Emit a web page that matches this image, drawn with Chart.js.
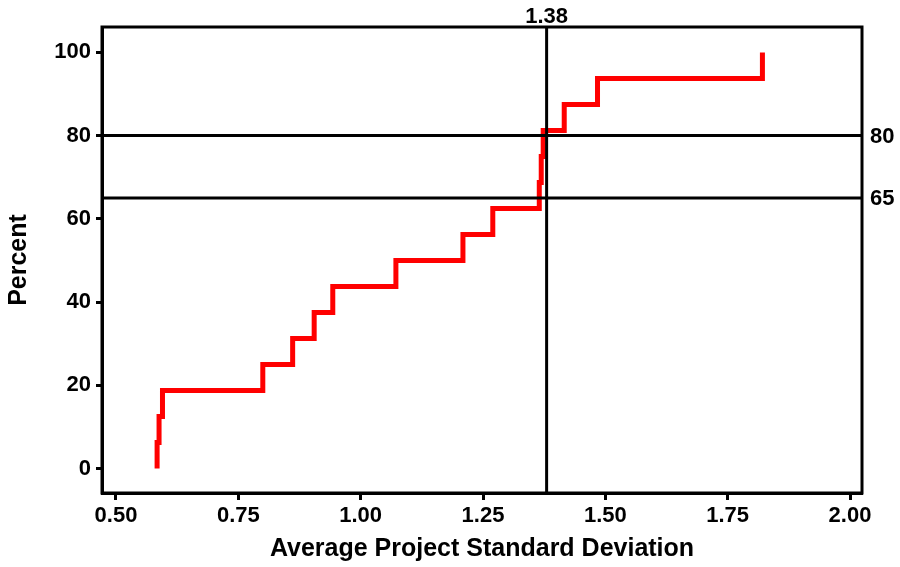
<!DOCTYPE html>
<html>
<head>
<meta charset="utf-8">
<script src="https://cdn.jsdelivr.net/npm/chart.js@4/dist/chart.umd.min.js"></script>
<style>
  html, body { margin: 0; padding: 0; background: #fff; }
  #wrap { width: 900px; height: 567px; position: relative; }
</style>
</head>
<body>
<div id="wrap"><canvas id="chart"></canvas></div>
<script>
// empirical distribution of average project standard deviation
const sdValues = [0.584, 0.588, 0.595, 0.800, 0.861, 0.905, 0.943, 1.072,
  1.209, 1.270, 1.365, 1.369, 1.373, 1.416, 1.484, 1.821];
const percentValues = [6.25, 12.5, 18.75, 25, 31.25, 37.5, 43.75, 50,
  56.25, 62.5, 68.75, 75, 81.25, 87.5, 93.75, 100];

const xTicks = [0.5, 0.75, 1.0, 1.25, 1.5, 1.75, 2.0];
const yTicks = [0, 20, 40, 60, 80, 100];

// reference lines
const refX = [1.38];
const refY = [80, 65];

const FONT = "'Liberation Sans', Arial, sans-serif";

const stepPoints = [{ x: sdValues[0], y: 0 }].concat(
  sdValues.map((x, i) => ({ x, y: percentValues[i] }))
);

// frame + reference lines + their labels
const refPlugin = {
  id: "refLines",
  afterDatasetsDraw(chart) {
    const { ctx, chartArea: a, scales } = chart;
    ctx.save();
    ctx.strokeStyle = "#000";
    ctx.lineWidth = 3;
    ctx.fillStyle = "#000";
    ctx.font = "bold 22px " + FONT;

    refY.forEach((v) => {
      const y = scales.y.getPixelForValue(v);
      ctx.beginPath();
      ctx.moveTo(a.left, y);
      ctx.lineTo(a.right, y);
      ctx.stroke();
      ctx.textAlign = "left";
      ctx.textBaseline = "middle";
      ctx.fillText(String(v), a.right + 8, y + 1);
    });

    refX.forEach((v) => {
      const x = scales.x.getPixelForValue(v);
      ctx.beginPath();
      ctx.moveTo(x, a.top);
      ctx.lineTo(x, a.bottom);
      ctx.stroke();
      ctx.textAlign = "center";
      ctx.textBaseline = "alphabetic";
      ctx.fillText(v.toFixed(2), x, a.top - 4);
    });

    ctx.strokeRect(a.left, a.top, a.right - a.left, a.bottom - a.top);
    ctx.restore();
  },
};

new Chart(document.getElementById("chart"), {
  type: "line",
  data: {
    datasets: [
      {
        label: "Percent",
        data: stepPoints,
        stepped: "before",
        borderColor: "#ff0000",
        borderWidth: 5,
        borderCapStyle: "butt",
        borderJoinStyle: "miter",
        pointRadius: 0,
        fill: false,
        clip: false,
      },
    ],
  },
  options: {
    responsive: true,
    maintainAspectRatio: false,
    animation: false,
    layout: { padding: { left: 0, top: 27, right: 38, bottom: 0 } },
    plugins: {
      legend: { display: false },
      tooltip: { enabled: false },
    },
    scales: {
      x: {
        type: "linear",
        min: 0.4714,
        max: 2.0245,
        afterBuildTicks: (scale) => {
          scale.ticks = xTicks.map((v) => ({ value: v }));
        },
        afterFit: (scale) => {
          scale.height = 74;
        },
        ticks: {
          color: "#000",
          font: { family: FONT, size: 22, weight: "bold" },
          padding: 3,
          maxRotation: 0,
          autoSkip: false,
          callback: (v) => Number(v).toFixed(2),
        },
        grid: {
          drawOnChartArea: false,
          drawTicks: true,
          tickLength: 7,
          tickWidth: 3,
          tickColor: "#000",
        },
        border: { display: true, color: "#000", width: 3 },
        title: {
          display: true,
          text: "Average Project Standard Deviation",
          color: "#000",
          font: { family: FONT, size: 25, weight: "bold" },
          padding: { top: 0, bottom: 3 },
        },
      },
      y: {
        type: "linear",
        min: -5.9,
        max: 106.1,
        afterBuildTicks: (scale) => {
          scale.ticks = yTicks.map((v) => ({ value: v }));
        },
        afterFit: (scale) => {
          scale.width = 102;
        },
        ticks: {
          color: "#000",
          font: { family: FONT, size: 22, weight: "bold" },
          padding: 5,
          autoSkip: false,
        },
        grid: {
          drawOnChartArea: false,
          drawTicks: true,
          tickLength: 6,
          tickWidth: 3,
          tickColor: "#000",
        },
        border: { display: true, color: "#000", width: 3 },
        title: {
          display: true,
          text: "Percent",
          color: "#000",
          font: { family: FONT, size: 25, weight: "bold" },
          padding: { top: 4, bottom: 0 },
        },
      },
    },
  },
  plugins: [refPlugin],
});
</script>
</body>
</html>
